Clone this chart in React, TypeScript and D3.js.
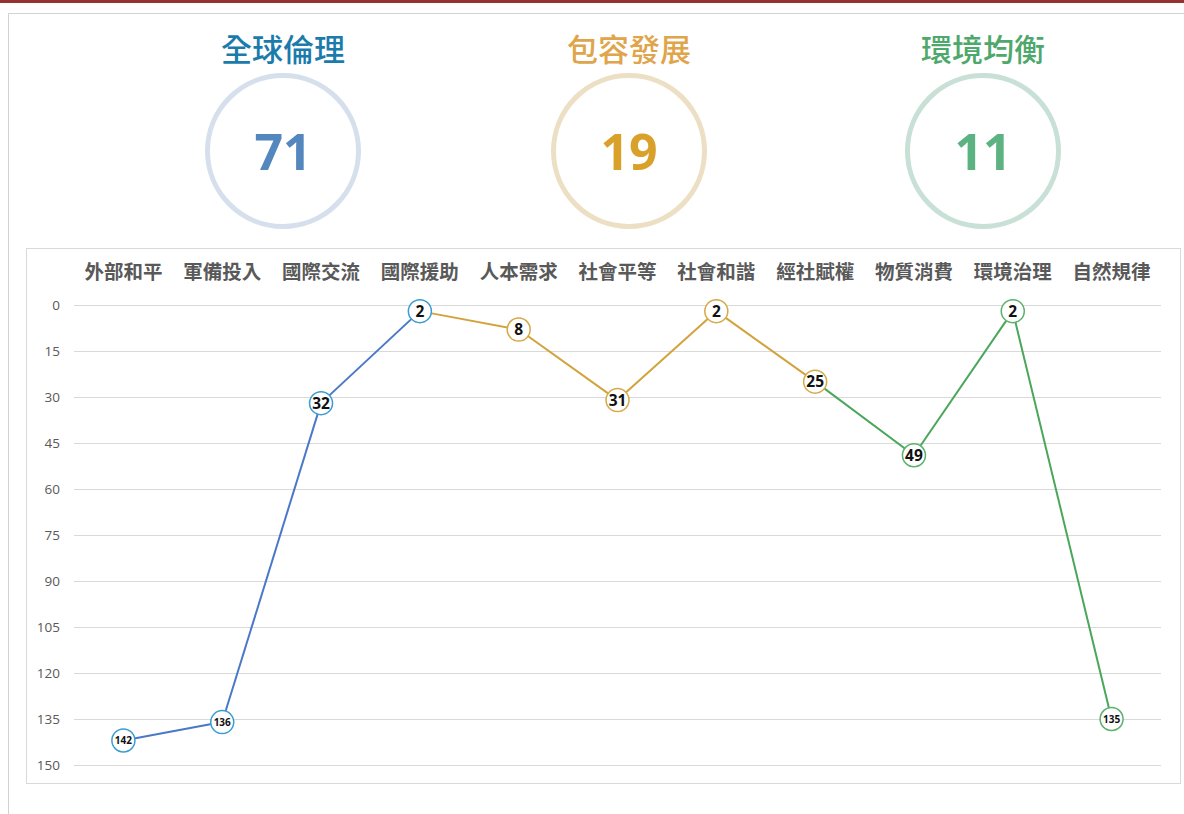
import React, { useEffect, useRef } from "react";
import * as d3 from "d3";

const categories = ["外部和平", "軍備投入", "國際交流", "國際援助", "人本需求", "社會平等", "社會和諧", "經社賦權", "物質消費", "環境治理", "自然規律"];
const ranks = [142, 136, 32, 2, 8, 31, 2, 25, 49, 2, 135];
// which group each category belongs to (0 全球倫理, 1 包容發展, 2 環境均衡)
const groupOf = [0, 0, 0, 0, 1, 1, 1, 1, 2, 2, 2];
const yTicks = [0, 15, 30, 45, 60, 75, 90, 105, 120, 135, 150];

const groupNames = ["全球倫理", "包容發展", "環境均衡"];
const groupScores = [71, 19, 11];

const titleColors = ["#1b7bab", "#e0a44a", "#4ea86b"];
const numberColors = ["#5487bd", "#d9a12a", "#5db282"];
const ringColors = ["#d6e0ec", "#ecdfc4", "#c8e0d6"];
const lineColors = ["#4a78c8", "#d2a33c", "#4aa65a"];
const markerColors = ["#3d9ccf", "#d6a848", "#5cb06c"];

const App = () => {
  const ref = useRef<SVGSVGElement>(null);

  useEffect(() => {
    const svg = d3.select(ref.current);
    svg.selectAll("*").remove();

    const cjk = "'Noto Sans CJK TC', 'Noto Sans', sans-serif";
    const num = "'Open Sans', 'Noto Sans', sans-serif";

    // page frame
    svg.append("rect").attr("x", 0).attr("y", 0).attr("width", 1184).attr("height", 814).attr("fill", "#fff");
    svg.append("rect").attr("x", 0).attr("y", 0).attr("width", 1184).attr("height", 3).attr("fill", "#983232");
    svg.append("path").attr("d", "M8.5,814 V13.5 H1190").attr("fill", "none").attr("stroke", "#d2d2d2");

    // header circles
    const cx = d3.scaleOrdinal<number, number>().domain([0, 1, 2]).range([283, 629, 983]);
    const head = svg.selectAll("g.head").data(groupNames).enter().append("g")
      .attr("transform", (_, i) => `translate(${cx(i)},0)`);
    head.append("text").attr("y", 61).attr("text-anchor", "middle")
      .attr("font-family", cjk).attr("font-size", 31).attr("font-weight", 500)
      .attr("fill", (_, i) => titleColors[i]).text(d => d);
    head.append("circle").attr("cy", 151).attr("r", 75.5).attr("fill", "none")
      .attr("stroke", (_, i) => ringColors[i]).attr("stroke-width", 5);
    head.append("text").attr("y", 170).attr("text-anchor", "middle")
      .attr("font-family", num).attr("font-size", 50).attr("font-weight", 700)
      .attr("fill", (_, i) => numberColors[i]).text((_, i) => groupScores[i]);

    // chart box
    svg.append("rect").attr("x", 26.5).attr("y", 248.5).attr("width", 1154).attr("height", 535)
      .attr("fill", "#fff").attr("stroke", "#d9d9d9");

    const x = d3.scaleBand().domain(categories).range([74, 1161]);
    const y = d3.scaleLinear().domain([0, 150]).range([305, 765]);

    const g = svg.append("g");
    g.selectAll("line.grid").data(yTicks).enter().append("line")
      .attr("x1", 74).attr("x2", 1161)
      .attr("y1", d => Math.round(y(d)) + 0.5).attr("y2", d => Math.round(y(d)) + 0.5)
      .attr("stroke", "#d9d9d9");
    g.selectAll("text.yt").data(yTicks).enter().append("text")
      .attr("x", 60).attr("y", d => y(d) + 5).attr("text-anchor", "end")
      .attr("font-family", num).attr("font-size", 13.5).attr("fill", "#595959").text(d => d);
    g.selectAll("text.xt").data(categories).enter().append("text")
      .attr("x", d => x(d)! + x.bandwidth() / 2).attr("y", 279).attr("text-anchor", "middle")
      .attr("font-family", cjk).attr("font-size", 19.5).attr("font-weight", 700)
      .attr("fill", "#595959").text(d => d);

    const px = (i: number) => x(categories[i])! + x.bandwidth() / 2;
    // segments: blue runs through 國際援助, gold through 經社賦權
    for (let i = 0; i < ranks.length - 1; i++) {
      const c = i < 3 ? 0 : i < 7 ? 1 : 2;
      g.append("line").attr("x1", px(i)).attr("y1", y(ranks[i])).attr("x2", px(i + 1)).attr("y2", y(ranks[i + 1]))
        .attr("stroke", lineColors[c]).attr("stroke-width", 2);
    }
    const m = g.selectAll("g.m").data(ranks).enter().append("g")
      .attr("transform", (d, i) => `translate(${px(i)},${y(d)})`);
    m.append("circle").attr("r", 11.5).attr("fill", "#fff")
      .attr("stroke", (_, i) => markerColors[groupOf[i]]).attr("stroke-width", 1.5);
    m.append("text").attr("text-anchor", "middle")
      .attr("y", d => (d >= 100 ? 3.5 : 5.5))
      .attr("font-family", num).attr("font-weight", 700)
      .attr("font-size", d => (d >= 100 ? 10 : 15.5))
      .attr("fill", "#111").text(d => d);
  }, []);

  return (
    <svg ref={ref} width={1184} height={814} style={{ position: "absolute", left: 0, top: 0 }} />
  );
};

export default App;
